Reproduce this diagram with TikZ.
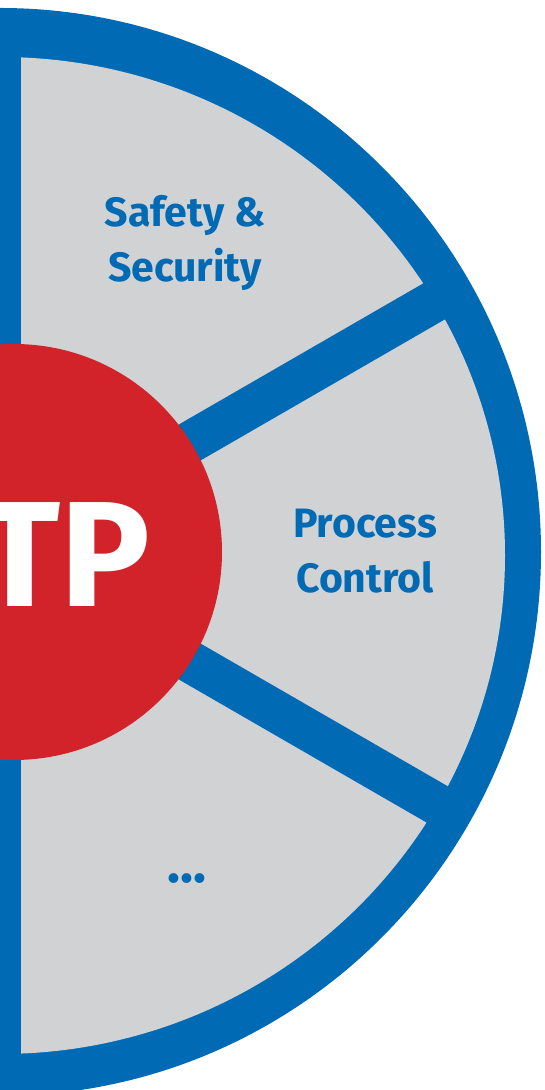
\documentclass[tikz,border=0pt]{standalone}
\usepackage{fontspec}
\setmainfont{Fira Sans}
\usetikzlibrary{backgrounds}
\definecolor{ringblue}{RGB}{0,106,180}
\definecolor{sectorgrey}{RGB}{209,210,212}
\definecolor{hubred}{RGB}{210,35,42}
\pgfdeclarelayer{edgelayer}
\pgfdeclarelayer{nodelayer}
\pgfsetlayers{edgelayer,nodelayer,main}
\tikzset{font=\bfseries}
\tikzstyle{none}=[inner sep=0pt]
\tikzstyle{sector}=[inner sep=0pt,align=center,text=ringblue,font=\fontsize{41}{55}\selectfont\bfseries]
\tikzstyle{hub}=[circle,fill=hubred,inner sep=0pt,minimum size=416pt]
\tikzstyle{spoke}=[line width=42pt,draw=ringblue]

\begin{document}
\begin{tikzpicture}[x=1pt,y=1pt]
	\useasboundingbox (0,0) rectangle (544,1090);
	\clip (0,0) rectangle (544,1090);
	\begin{pgfonlayer}{edgelayer}
		\coordinate (0) at (0,538);
		\fill[ringblue] (0) ellipse [x radius=541, y radius=544];
		\begin{scope}
			\clip (21,0) rectangle (544,1090);
			\fill[sectorgrey] (0,534.5) ellipse [x radius=505, y radius=498.5];
		\end{scope}
		\path (0) ++(30:520) coordinate (1);
		\path (0) ++(-30:520) coordinate (2);
		\draw[style=spoke] (0) to (1);
		\draw[style=spoke] (0) to (2);
	\end{pgfonlayer}
	\begin{pgfonlayer}{nodelayer}
		\node [style=hub] (3) at (14,538) {};
		\node [style=none, text=white, anchor=base, font=\fontsize{150}{150}\selectfont\bfseries] (4) at (65,483) {TP};
		\node [style=sector, anchor=base] (5) at (185,808) {Safety \&\\Security};
		\node [style=sector, anchor=base] (6) at (365,497) {Process\\Control};
		\node [style=sector, anchor=base, font=\fontsize{54}{54}\selectfont\bfseries] (7) at (187,207) {...};
	\end{pgfonlayer}
\end{tikzpicture}
\end{document}
